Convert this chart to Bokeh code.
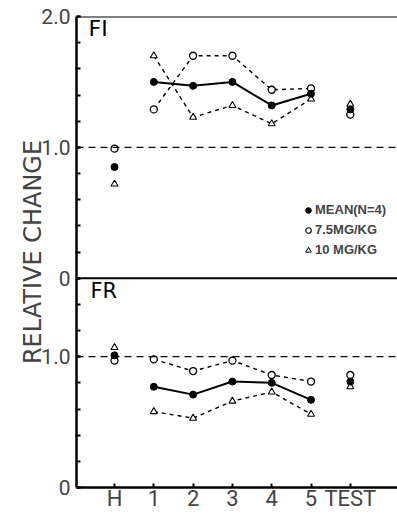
import numpy as np
from bokeh.plotting import figure
from bokeh.models import FixedTicker, Span, Label, Legend, LegendItem
from bokeh.embed import file_html
from bokeh.resources import INLINE

# ---------------- data ----------------
categories = ["H", "1", "2", "3", "4", "5", "TEST"]
x_pos = [0, 1, 2, 3, 4, 5, 6]
session_idx = [1, 2, 3, 4, 5]          # sessions joined by lines

# FI panel (upper)
fi_mean = [0.85, 1.50, 1.47, 1.50, 1.32, 1.41, 1.29]
fi_75 = [0.99, 1.29, 1.70, 1.70, 1.44, 1.45, 1.25]
fi_10 = [0.72, 1.70, 1.23, 1.32, 1.18, 1.37, 1.33]

# FR panel (lower)
fr_mean = [1.01, 0.77, 0.71, 0.81, 0.80, 0.67, 0.81]
fr_75 = [0.97, 0.98, 0.89, 0.97, 0.86, 0.81, 0.86]
fr_10 = [1.07, 0.58, 0.53, 0.66, 0.73, 0.56, 0.77]

fr_top = 1.6        # upper limit of FR panel = zero of FI panel
fi_top = 2.0
ref_level = 1.0

y_tick_values = [0, 1.0, 1.6, 2.6, 3.6]
y_tick_labels = ["0", "1.0", "0", "1.0", "2.0"]

legend_labels = ["MEAN(N=4)", "7.5MG/KG", "10 MG/KG"]

TICKFONT = "Roboto"

p = figure(width=397, height=514, x_range=(-0.967, 7.2), y_range=(0, fr_top + fi_top),
           output_backend="svg", toolbar_location=None,
           min_border_left=76, min_border_right=0, min_border_top=16, min_border_bottom=27)
p.outline_line_color = None
p.grid.visible = False
p.background_fill_color = "white"

# axes
p.yaxis.ticker = FixedTicker(ticks=y_tick_values,
                             minor_ticks=[round(v, 1) for v in np.arange(0, fr_top + fi_top + 0.01, 0.2)])
p.yaxis.major_label_overrides = dict(zip(y_tick_values, y_tick_labels))
p.yaxis.axis_label = "RELATIVE CHANGE"
p.yaxis.axis_label_text_font = "DejaVu Sans"
p.yaxis.axis_label_text_font_size = "24px"
p.yaxis.axis_label_text_font_style = "normal"
p.yaxis.axis_label_standoff = -9
p.yaxis.major_label_text_font = TICKFONT
p.yaxis.major_label_text_font_size = "21px"
p.yaxis.major_label_standoff = 6
p.yaxis.axis_line_width = 2.5
p.yaxis.major_tick_in = 4
p.yaxis.major_tick_out = 0
p.yaxis.minor_tick_in = 4
p.yaxis.minor_tick_out = 0
p.yaxis.major_tick_line_width = 2
p.yaxis.minor_tick_line_width = 2

p.xaxis.ticker = FixedTicker(ticks=x_pos)
p.xaxis.major_label_overrides = dict(zip(x_pos, categories))
p.xaxis.major_label_text_font = TICKFONT
p.xaxis.major_label_text_font_size = "22px"
p.xaxis.major_label_standoff = -2
p.xaxis.axis_line_width = 2.5
p.xaxis.major_tick_in = 4
p.xaxis.major_tick_out = 0
p.xaxis.minor_tick_line_color = None
p.xaxis.major_tick_line_width = 2

# panel borders and reference lines
p.add_layout(Span(location=fr_top + fi_top, dimension="width", line_color="black", line_width=2))
p.add_layout(Span(location=fr_top, dimension="width", line_color="black", line_width=2))
p.add_layout(Span(location=ref_level, dimension="width", line_color="black", line_width=1.3, line_dash="7 5"))
p.add_layout(Span(location=fr_top + ref_level, dimension="width", line_color="black", line_width=1.3, line_dash="7 5"))


def draw_panel(mean, d75, d10, offset):
    ym = [v + offset for v in mean]
    y75 = [v + offset for v in d75]
    y10 = [v + offset for v in d10]
    xs = [x_pos[i] for i in session_idx]
    p.line(xs, [y75[i] for i in session_idx], line_color="black", line_width=1.4, line_dash="4 4")
    p.line(xs, [y10[i] for i in session_idx], line_color="black", line_width=1.4, line_dash="4 4")
    p.line(xs, [ym[i] for i in session_idx], line_color="black", line_width=2)
    p.scatter(x_pos, y75, marker="circle", size=7, fill_color="white", line_color="black", line_width=1.3)
    p.scatter(x_pos, y10, marker="triangle", size=7, fill_color="white", line_color="black", line_width=1.1)
    p.scatter(x_pos, ym, marker="circle", size=7, fill_color="black", line_color="black")


draw_panel(fr_mean, fr_75, fr_10, 0.0)
draw_panel(fi_mean, fi_75, fi_10, fr_top)

# panel names
p.add_layout(Label(x=-0.66, y=fr_top + fi_top - 0.185, text="FI", text_font="DejaVu Sans",
                   text_font_size="22px", text_color="black"))
p.add_layout(Label(x=-0.61, y=fr_top - 0.19, text="FR", text_font="DejaVu Sans",
                   text_font_size="21px", text_color="black"))

# legend (hidden placeholder points carry the legend glyphs)
nan = float("nan")
r1 = p.scatter(x=[nan], y=[nan], marker="circle", size=5, fill_color="black", line_color="black")
r2 = p.scatter(x=[nan], y=[nan], marker="circle", size=5, fill_color="white", line_color="black", line_width=1.1)
r3 = p.scatter(x=[nan], y=[nan], marker="triangle", size=5, fill_color="white", line_color="black", line_width=1)
legend = Legend(items=[LegendItem(label=legend_labels[0], renderers=[r1]),
                       LegendItem(label=legend_labels[1], renderers=[r2]),
                       LegendItem(label=legend_labels[2], renderers=[r3])],
                location=(225, 230))
legend.border_line_color = None
legend.background_fill_alpha = 0
legend.padding = 0
legend.margin = 0
legend.spacing = 5
legend.glyph_width = 14
legend.glyph_height = 14
legend.label_height = 14
legend.label_standoff = 0
legend.label_text_font = "Liberation Sans"
legend.label_text_font_style = "bold"
legend.label_text_font_size = "13px"
p.add_layout(legend)

open("out.html", "w").write(file_html(p, INLINE))
